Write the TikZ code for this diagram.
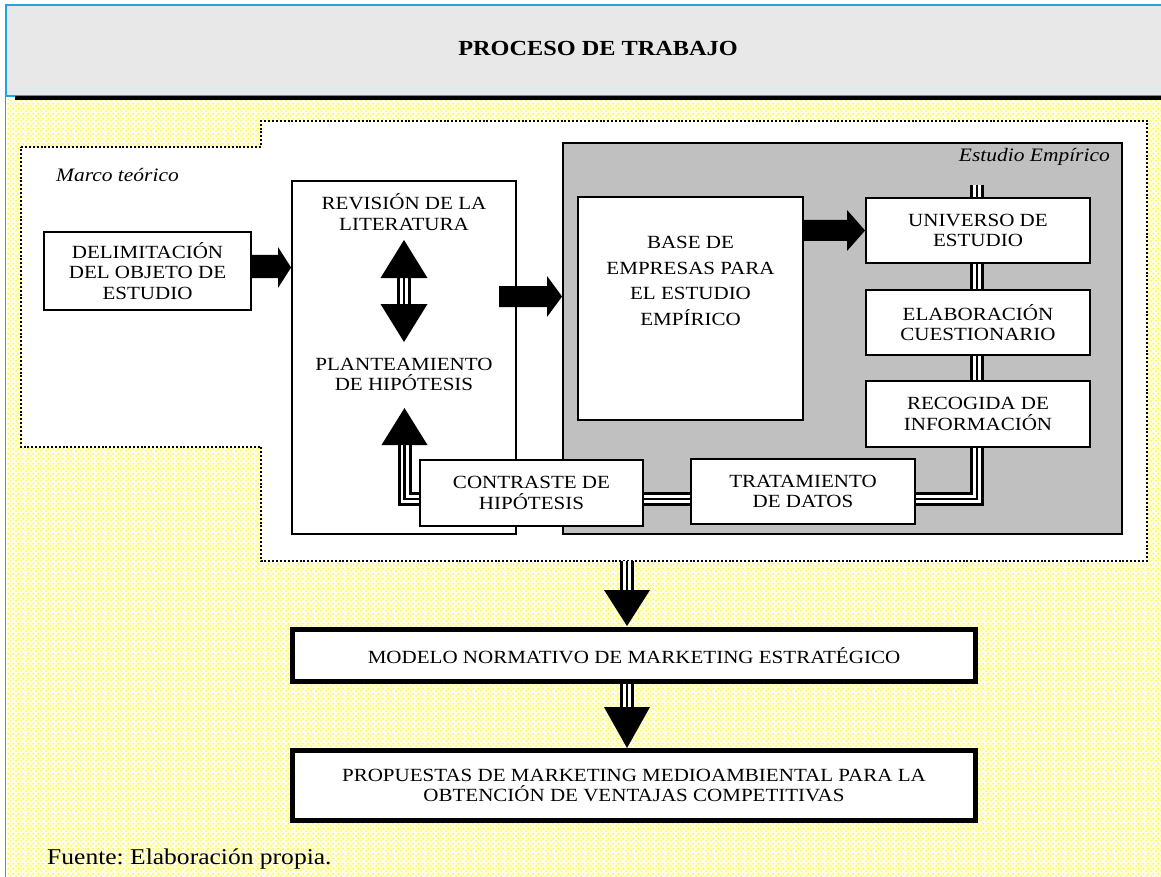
\documentclass[tikz,border=0pt]{standalone}
\usepackage{fontspec}
\setmainfont{Liberation Serif}[FakeStretch=1.13]
\usetikzlibrary{patterns}
\pgfdeclarepatternformonly{ydots}{\pgfqpoint{0pt}{0pt}}{\pgfqpoint{5pt}{5pt}}{\pgfqpoint{5pt}{5pt}}{%
  \pgfpathcircle{\pgfqpoint{1.25pt}{1.25pt}}{0.95pt}%
  \pgfpathcircle{\pgfqpoint{3.75pt}{3.75pt}}{0.95pt}%
  \pgfusepath{fill}}
\definecolor{hdrblue}{RGB}{30,165,225}
\definecolor{hdrgray}{RGB}{232,232,232}
\definecolor{boxgray}{RGB}{192,192,192}
\definecolor{dotyellow}{RGB}{255,245,0}
\definecolor{bgyellow}{RGB}{255,255,225}
\newcommand\boxfont{\fontsize{18.6}{20.5}\selectfont}
\newcommand\labfont{\fontsize{19}{21}\selectfont\itshape}
\frenchspacing
\begin{document}
\begin{tikzpicture}[x=1pt,y=-1pt,
  box/.style={draw, line width=1.8pt, fill=white, inner sep=0pt, align=center, font=\boxfont},
  bigbox/.style={draw, line width=5pt, fill=white, inner sep=0pt, align=center, font=\boxfont},
  txt/.style={inner sep=0pt, align=center, font=\boxfont},
  trip/.style={line width=3pt, double=white, double distance=8pt},
  tripc/.style={line width=2.8pt},
  dotline/.style={line width=2.2pt, dash pattern=on 2pt off 1.9pt},
  lab/.style={inner sep=0pt, font=\labfont}]
\useasboundingbox (0,0) rectangle (1161,877);
\fill[white] (0,0) rectangle (1161,877);
\fill[bgyellow] (7,100) rectangle (1161,877);
\fill[pattern=ydots, pattern color=dotyellow] (7,100) rectangle (1161,877);
% header
\draw[hdrblue, line width=1.5pt, fill=hdrgray] (5.75,5) rectangle (1175,96);
\node[inner sep=0pt, font=\bfseries\fontsize{21.5}{24}\selectfont] (title) at (598,48) {PROCESO DE TRABAJO};
\fill[black] (15,96.5) rectangle (1161,100);
\draw[hdrblue, line width=1.2pt] (5.75,96) -- (5.75,877);
% white dotted region
\fill[white] (21,147) -- (261,147) -- (261,121) -- (1147,121) -- (1147,561) -- (261,561) -- (261,447) -- (21,447) -- cycle;
\draw[dotline] (21,147) -- (261,147) -- (261,121) -- (1147,121) -- (1147,561) -- (261,561) -- (261,447) -- (21,447) -- cycle;
% empirical study area
\node[draw, line width=1.8pt, fill=boxgray, inner sep=0pt, minimum width=559, minimum height=391] (emp) at (842.5,338.5) {};
\node[lab, anchor=west] (marco) at (56,175) {Marco teórico};
\node[lab, anchor=east] (estlab) at (1110,157) {Estudio Empírico};
% literature box
\node[box, minimum width=224, minimum height=353] (rev) at (404,357.5) {};
\node[txt] (revtxt) at (404,212) {REVISIÓN DE LA\\LITERATURA};
\node[txt] (plantxt) at (404,374.5) {PLANTEAMIENTO\\DE HIPÓTESIS};
% feedback loop
\draw[trip] (977,185) -- (977,499) -- (404.5,499) -- (404.5,444);
\draw[tripc] (977,185) -- (977,499) -- (404.5,499) -- (404.5,444);
\fill (404.5,408) -- (427.5,445) -- (381.5,445) -- cycle;
% double arrow
\draw[trip] (404,277) -- (404,305);
\draw[tripc] (404,277) -- (404,305);
\fill (404,240) -- (427.5,278) -- (380.5,278) -- cycle;
\fill (404,342) -- (427.5,304) -- (380.5,304) -- cycle;
% boxes
\node[box, minimum width=207, minimum height=78] (delim) at (147.5,271) {DELIMITACIÓN\\DEL OBJETO DE\\ESTUDIO};
\node[box, minimum width=225, minimum height=223] (base) at (690.5,308.5) {};
\node[txt, font=\fontsize{18.6}{25.5}\selectfont] (basetxt) at (690.5,281) {BASE DE\\EMPRESAS PARA\\EL ESTUDIO\\EMPÍRICO};
\node[box, minimum width=224, minimum height=65] (univ) at (978,230.5) {UNIVERSO DE\\ESTUDIO};
\node[box, minimum width=224, minimum height=65] (elab) at (978,322.5) {ELABORACIÓN\\CUESTIONARIO};
\node[box, minimum width=224, minimum height=66] (recog) at (978,414) {RECOGIDA DE\\INFORMACIÓN};
\node[box, minimum width=223, minimum height=66] (contr) at (531.5,493) {CONTRASTE DE\\HIPÓTESIS};
\node[box, minimum width=224, minimum height=65] (trat) at (803,491.5) {TRATAMIENTO\\DE DATOS};
% block arrows
\fill (delim.east |- 0,255) -- (278,255) -- (278,247) -- (rev.west |- 0,267.5) -- (278,288) -- (278,278) -- (delim.east |- 0,278) -- cycle;
\fill (499,286) -- (547,286) -- (547,276) -- (emp.west |- 0,296.5) -- (547,317) -- (547,307) -- (499,307) -- cycle;
\fill (base.east |- 0,220) -- (847,220) -- (847,210) -- (univ.west |- 0,230.5) -- (847,251) -- (847,241) -- (base.east |- 0,241) -- cycle;
% lower part
\node[bigbox, minimum width=683, minimum height=52] (modelo) at (634,655.5) {MODELO NORMATIVO DE MARKETING ESTRATÉGICO};
\node[bigbox, minimum width=683, minimum height=70] (prop) at (634,785.5) {PROPUESTAS DE MARKETING MEDIOAMBIENTAL PARA LA\\OBTENCIÓN DE VENTAJAS COMPETITIVAS};
\coordinate (d1) at (627,561);
\draw[trip] (d1) -- (627,591);
\draw[tripc] (d1) -- (627,591);
\fill (627,626) -- (650,590) -- (604,590) -- cycle;
\draw[trip] (627,684) -- (627,708);
\draw[tripc] (627,684) -- (627,708);
\fill (627,748) -- (650,707) -- (604,707) -- cycle;
\node[inner sep=0pt, anchor=west, font=\fontsize{22.6}{25}\selectfont] (fuente) at (47,859) {Fuente: Elaboración propia.};
\end{tikzpicture}
\end{document}
